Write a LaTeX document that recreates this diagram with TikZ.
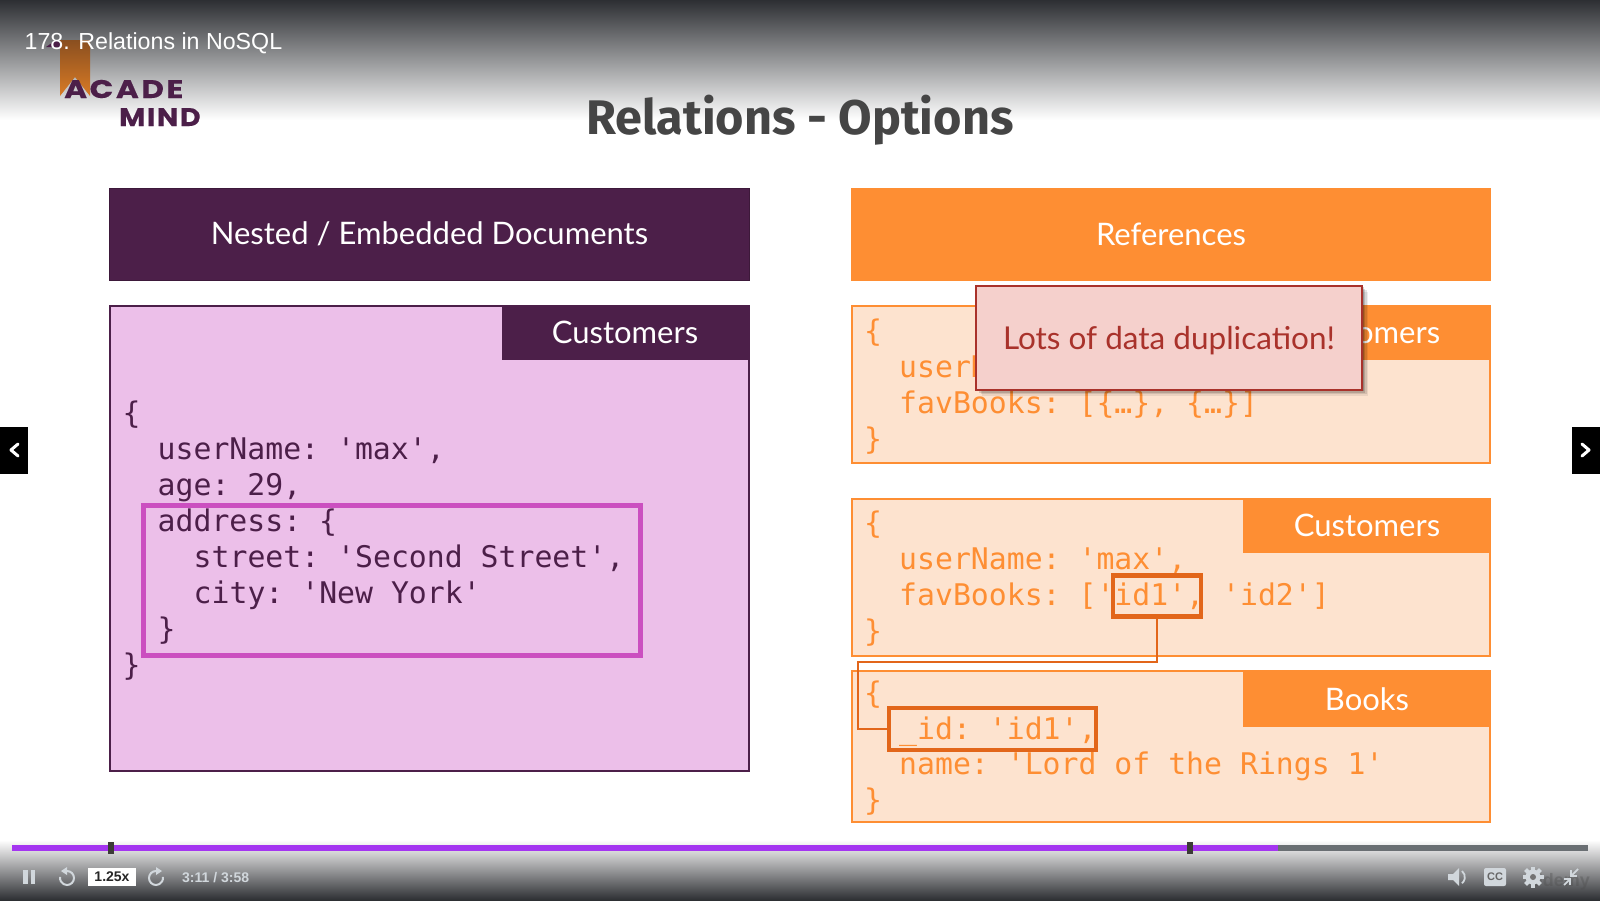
\documentclass[tikz,border=0pt]{standalone}
\usepackage{fontspec}
\setmainfont{Lato}
\newfontfamily\codefont{DejaVu Sans Mono}
\newfontfamily\titlefont{Fira Sans}
\newfontfamily\uifont{Liberation Sans}
\newfontfamily\logofontA[LetterSpace=10,FakeStretch=1.22,FakeBold=0.4]{Poppins}
\newfontfamily\logofontB[LetterSpace=6,FakeStretch=1.12,FakeBold=0.4]{Poppins}
\definecolor{darkbar}{HTML}{2D2F33}
\definecolor{plum}{HTML}{4C1F49}
\definecolor{pinkfill}{HTML}{ECBFE9}
\definecolor{pinkline}{HTML}{CB4FC0}
\definecolor{amber}{HTML}{FE8E33}
\definecolor{peach}{HTML}{FDE3CF}
\definecolor{burnt}{HTML}{E2661A}
\definecolor{rosefill}{HTML}{F5D0CC}
\definecolor{redtext}{HTML}{A9322B}
\definecolor{uigray}{HTML}{D1D7DC}
\definecolor{barviolet}{HTML}{A435F0}
\definecolor{bargray}{HTML}{6A6F73}
\definecolor{markdark}{HTML}{3C3B37}
\definecolor{bookA}{HTML}{8A4F20}
\definecolor{bookB}{HTML}{D97B25}
\tikzset{
  panel/.style={draw=#1,line width=2,anchor=north west,inner sep=0,outer sep=0},
  codeline/.style={anchor=base west,inner sep=0,text=#1,font=\codefont\fontsize{29.8}{36}\selectfont\frenchspacing},
  banner/.style={fill=#1,inner sep=0,text=white,text height=24,text depth=3,font=\fontsize{31}{36}\selectfont},
  tabtext/.style={text=white,inner sep=0,text height=24,text depth=3,font=\fontsize{31}{36}\selectfont},
  mark box/.style={draw=burnt,line width=4.5,inner sep=0},
  ui/.style={fill=uigray,draw=none},
  navbox/.style={fill=black,draw=none},
  chev/.style={draw=white,line width=3,line cap=round,line join=round}
}
\begin{document}
\begin{tikzpicture}[x=1pt,y=-1pt]
\useasboundingbox (0,0) rectangle (1600,900);
\fill[white] (0,0) rectangle (1600,900);
% gradients
\shade[top color=darkbar,bottom color=white] (0,0) rectangle (1600,120);
\shade[top color=white,bottom color=darkbar] (0,840) rectangle (1600,900);
% logo
\fill[plum] (46,47) -- (56,40) -- (64,47) -- cycle;
\shade[top color=bookA,bottom color=bookB] (60,40) -- (90,40) -- (90,96) -- (75,77) -- (60,96) -- cycle;
\node[anchor=base west,inner sep=0,text=plum,font=\logofontA\bfseries\fontsize{25.5}{30}\selectfont] (logoA) at (64,98) {ACADE};
\node[anchor=base west,inner sep=0,text=plum,font=\logofontB\bfseries\fontsize{25.5}{30}\selectfont] (logoB) at (119,126) {MIND};
% video title
\node[anchor=base west,inner sep=0,text=white,font=\uifont\fontsize{23.2}{28}\selectfont] (vtitle) at (24.5,49) {178. Relations in NoSQL};
% slide title
\node[anchor=base,inner sep=0,text=black!73,font=\titlefont\bfseries\fontsize{48.6}{54}\selectfont] (title) at (800,134) {Relations - Options};
% headers
\node[banner=plum,draw=plum!80!black,line width=1,minimum width=640,minimum height=92] (h1) at (429.5,234) {Nested / Embedded Documents};
\node[banner=amber,minimum width=640,minimum height=93] (h2) at (1171,234.5) {References};
% left panel
\node[panel=plum,fill=pinkfill,minimum width=639,minimum height=464.5] (leftp) at (110,306) {};
\node[fill=plum,inner sep=0,outer sep=0,minimum width=248,minimum height=55,anchor=north east] (lt) at (750,305) {};
\node[tabtext] (ltt) at (625,333) {Customers};
\foreach \n/\xx/\yy/\t in {a/122.5/423/\{,b/157.5/459/{userName: 'max',},c/157.5/495/{age: 29,},d/157.5/531/{address: \{},e/193.5/567/{street: 'Second Street',},f/193.5/603/{city: 'New York'},g/157.5/639/\},h/122.5/675/\}}
  \node[codeline=plum] (l\n) at (\xx,\yy) {\t};
\node[draw=pinkline,line width=5,inner sep=0,outer sep=0,minimum width=497,minimum height=150,anchor=north west] (addr) at (143,505) {};
% right panels
\foreach \n/\yy/\hh/\ty/\th in {r/306/157/305/55,s/499/157/498/55,t/671/151/670/57}{
  \node[panel=amber,fill=peach,minimum width=638.5,minimum height=\hh] (box\n) at (851.5,\yy) {};
  \node[fill=amber,inner sep=0,outer sep=0,minimum width=248,minimum height=\th,anchor=north east] (tab\n) at (1491,\ty) {};
}
\node[tabtext] (trt) at (1367,333) {Customers};
\node[tabtext] (tst) at (1367,526) {Customers};
\node[tabtext] (ttt) at (1367,700) {Books};
\foreach \n/\xx/\yy/\t in {a/864/341/\{,b/899/377/userName,c/899/413/{favBooks: [\{…\}, \{…\}]},d/864/449/\},
  e/864/533/\{,f/899/569/{userName: 'max',},g/899/605/{favBooks: ['id1', 'id2']},h/864/641/\},
  i/864/703/\{,j/899/739/{\_id: 'id1',},k/899/774/{name: 'Lord of the Rings 1'},m/864/810/\}}
  \node[codeline=amber] (r\n) at (\xx,\yy) {\t};
% highlight boxes and link
\node[mark box,minimum width=88,minimum height=41] (idbox) at (1157,596) {};
\node[mark box,minimum width=207,minimum height=42] (refbox) at (992.5,729) {};
\coordinate (turn) at (858,662);
\draw[burnt,line width=2.5] (idbox.south) |- (turn) |- (refbox.west);
% popup shadow
\foreach \d/\o in {6/.07,4.5/.1,3/.14,1.5/.18}
  \fill[black,opacity=\o] (976+\d,285.5+\d) rectangle (1362+\d,389.5+\d);
% popup
\node[draw=redtext,line width=2,fill=rosefill,text=redtext,inner sep=0,minimum width=386,minimum height=104,text height=26,text depth=3,font=\fontsize{31.5}{36}\selectfont] (popup) at (1169,337.5) {Lots of data duplication!};
% nav
\node[navbox,minimum width=28,minimum height=47,inner sep=0] (navL) at (14,450) {};
\node[navbox,minimum width=28,minimum height=47,inner sep=0] (navR) at (1586,450) {};
\draw[chev] (18,444) -- (11,450) -- (18,456);
\draw[chev] (1582,444) -- (1589,450) -- (1582,456);
% progress
\fill[bargray] (12,845) rectangle (1588,851);
\fill[barviolet] (12,845) rectangle (1278,851);
\fill[markdark] (108,842) rectangle (114,854);
\fill[markdark] (1187,842) rectangle (1193,854);
% controls
\fill[ui] (23,870) rectangle (27.5,884);
\fill[ui] (30.5,870) rectangle (35,884);
\begin{scope}[shift={(67,878)}]
  \draw[uigray,line width=2] (0,-7) arc[start angle=-90,end angle=190,radius=7];
  \fill[ui] (0,-11) -- (0,-3) -- (-6,-7) -- cycle;
\end{scope}
\begin{scope}[shift={(156,878)},xscale=-1]
  \draw[uigray,line width=2] (0,-7) arc[start angle=-90,end angle=190,radius=7];
  \fill[ui] (0,-11) -- (0,-3) -- (-6,-7) -- cycle;
\end{scope}
\node[fill=white,inner sep=0,minimum width=48,minimum height=18,text=black!85,font=\uifont\bfseries\fontsize{14}{16}\selectfont] (speed) at (112,877) {1.25x};
\node[anchor=base west,inner sep=0,text=uigray,font=\uifont\bfseries\fontsize{14}{16}\selectfont] (time) at (182,882) {3:11 / 3:58};
% watermark
\node[anchor=base east,inner sep=0,text=black!70,opacity=.35,font=\uifont\bfseries\fontsize{18}{20}\selectfont] (wm) at (1590,886) {Udemy};
% volume
\fill[ui] (1448,874) -- (1453,874) -- (1459,868) -- (1459,886) -- (1453,880) -- (1448,880) -- cycle;
\draw[uigray,line width=1.8] (1462,871) arc[start angle=-50,end angle=50,radius=8];
% cc
\fill[ui,rounded corners=2] (1484,868) rectangle (1506,886);
\node[inner sep=0,text=black!60,font=\uifont\bfseries\fontsize{11}{12}\selectfont] (ccl) at (1495,877) {CC};
% gear
\fill[ui] (1533,877) circle[radius=7.5];
\foreach \a in {0,45,...,315}
  \fill[ui,rotate around={\a:(1533,877)}] (1531,866.5) rectangle (1535,872);
\fill[black!55] (1533,877) circle[radius=3];
% exit fullscreen
\draw[uigray,line width=1.8] (1578,869) -- (1571,876);
\draw[uigray,line width=1.8] (1571,870) -- (1571,876) -- (1577,876);
\draw[uigray,line width=1.8] (1564,885) -- (1570,879);
\draw[uigray,line width=1.8] (1563.5,879) -- (1570,879) -- (1570,885);
\end{tikzpicture}
\end{document}
